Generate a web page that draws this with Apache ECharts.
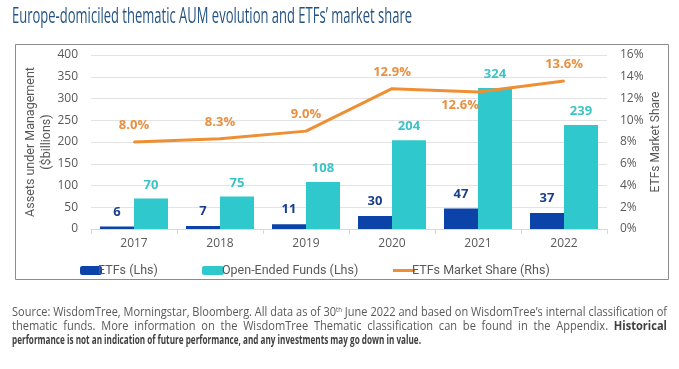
<!DOCTYPE html>
<html><head><meta charset="utf-8">
<script src="https://cdn.jsdelivr.net/npm/echarts@6/dist/echarts.min.js"></script>
<style>html,body{margin:0;padding:0;background:#fff}#c{width:679px;height:369px}</style>
</head><body><div id="c"></div>
<script>
const years = ['2017','2018','2019','2020','2021','2022'];
const etfs = [6, 7, 11, 30, 47, 37];
const openEnded = [70, 75, 108, 204, 324, 239];
const marketShare = [8.0, 8.3, 9.0, 12.9, 12.6, 13.6];
const leftTicks = [0, 400, 50];
const rightTicks = [0, 16, 2];

const FONT = '"Open Sans", "Noto Sans", sans-serif';
const AX = '"Open Sans", "Noto Sans", sans-serif';
const LEG = 'Roboto, "Open Sans", sans-serif';
const mctx = document.createElement('canvas').getContext('2d');
function w(text, size, weight){ mctx.font = (weight||'normal')+' '+size+'px '+FONT; return mctx.measureText(text).width; }

const titleText = 'Europe-domiciled thematic AUM evolution and ETFs\u2019 market share';
const l1a = 'Source: WisdomTree, Morningstar, Bloomberg. All data as of 30', l1b = ' June 2022 and based on WisdomTree\u2019s internal classification of';
const l2a = 'thematic  funds.  More  information  on  the  WisdomTree  Thematic  classification  can  be  found  in  the  Appendix.  ', l2b = 'Historical';
const l3 = 'performance is not an indication of future performance, and any investments may go down in value.';
const FS = 12.5;
const tW = w(titleText, 22);
const w1 = w(l1a, FS) + w('th', 7) + w(l1b, FS);
const w2 = w(l2a, FS) + w(l2b, FS, 'bold');
const w3 = w(l3, FS, 'bold');

const c = echarts.init(document.getElementById('c'), null, {renderer:'canvas'});
c.setOption({
  animation:false,
  textStyle:{fontFamily:AX},
  grid:{left:91, right:72, top:55, bottom:140},
  legend:[
    {data:['ETFs (Lhs)'], left:75, top:259, itemWidth:22, itemHeight:9, textStyle:{fontFamily:LEG, fontSize:12.5, color:'#595959', padding:[0,0,0,-9]}},
    {data:['Open-Ended Funds (Lhs)'], left:197, top:259, itemWidth:22, itemHeight:9, textStyle:{fontFamily:LEG, fontSize:12.5, color:'#595959', padding:[0,0,0,-7]}},
    {data:[{name:'ETFs Market Share (Rhs)', icon:'rect', itemStyle:{color:'#ef8f34', opacity:1}}], left:388, top:259, itemWidth:22, itemHeight:3, textStyle:{fontFamily:LEG, fontSize:12.5, color:'#595959', padding:[0,0,0,-8]}}
  ],
  xAxis:{type:'category', data:years,
    axisLine:{lineStyle:{color:'#d9d9d9'}}, axisTick:{show:true, lineStyle:{color:'#d9d9d9'}},
    axisLabel:{color:'#595959', fontSize:12, margin:9}},
  yAxis:[
    {type:'value', min:leftTicks[0], max:leftTicks[1], interval:leftTicks[2],
      name:'Assets under Management\n($billions)', nameLocation:'middle', nameGap:36, nameRotate:90, nameMoveOverlap:false,
      nameTextStyle:{color:'#595959', fontSize:12.5, lineHeight:16, fontFamily:LEG},
      axisLabel:{color:'#595959', fontSize:12, margin:13},
      splitLine:{lineStyle:{color:'#e3e3e3'}}},
    {type:'value', min:rightTicks[0], max:rightTicks[1], interval:rightTicks[2],
      name:'ETFs Market Share', nameLocation:'middle', nameGap:43, nameRotate:90, nameMoveOverlap:false,
      nameTextStyle:{color:'#595959', fontSize:12, fontFamily:LEG},
      axisLabel:{color:'#595959', fontSize:12, margin:13, formatter:'{value}%'},
      splitLine:{show:false}}
  ],
  series:[
    {name:'ETFs (Lhs)', type:'bar', data:etfs, barWidth:34, barGap:'0%', itemStyle:{color:'#0b43a8'},
      label:{show:true, position:'top', distance:8, color:'#1a3f8a', fontWeight:'bold', fontSize:13}},
    {name:'Open-Ended Funds (Lhs)', type:'bar', data:openEnded, barWidth:34, itemStyle:{color:'#2fc8cc'},
      label:{show:true, position:'top', distance:7, color:'#3cc3c6', fontWeight:'bold', fontSize:13}},
    {name:'ETFs Market Share (Rhs)', type:'line', yAxisIndex:1, data:marketShare.map((v,i)=> i===4 ?
        {value:v, label:{position:'bottom', distance:6, offset:[-18,0]}} : v),
      symbol:'circle', symbolSize:2, showSymbol:true, lineStyle:{color:'#ef8f34', width:3}, itemStyle:{color:'#ef8f34'},
      label:{show:true, position:'top', distance:9, color:'#ea8f3e', fontWeight:'bold', fontSize:13,
        formatter:p=>p.value.toFixed(1)+'%'}}
  ],
  graphic:[
    {type:'rect', shape:{x:15.5, y:44.5, width:653, height:235}, style:{fill:null, stroke:'#8c8c8c', lineWidth:1}, z:-1},
    {type:'text', x:12, y:6, scaleX:400/tW, style:{x:0, y:0, fontFamily:FONT, fontSize:22, fill:'#245383', text:titleText}},
    {type:'text', x:12, y:306, scaleX:655/w1, style:{x:0, y:0, fontFamily:FONT, fontSize:FS, fill:'#595959',
      text:l1a+'{s|th}'+l1b,
      rich:{s:{fontSize:7, verticalAlign:'top', padding:[0,0,6,0], fill:'#595959', fontFamily:FONT}}}},
    {type:'text', x:12, y:320, scaleX:655/w2, style:{x:0, y:0, fontFamily:FONT, fontSize:FS, fill:'#595959',
      text:l2a+'{b|'+l2b+'}',
      rich:{b:{fontWeight:'bold', fill:'#404040', fontFamily:FONT, fontSize:FS}}}},
    {type:'text', x:12, y:334, scaleX:409/w3, style:{x:0, y:0, fontFamily:FONT, fontSize:FS, fontWeight:'bold', fill:'#404040', text:l3}}
  ]
});
</script></body></html>
